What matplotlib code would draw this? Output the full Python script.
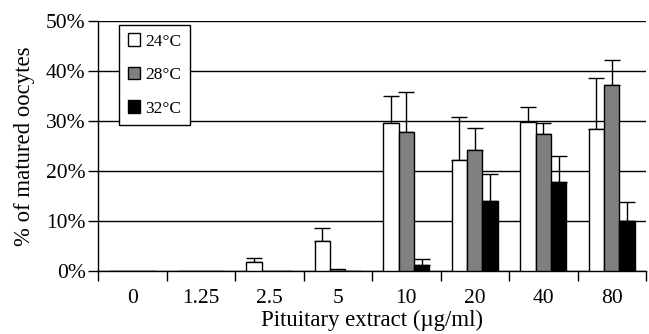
import matplotlib.pyplot as plt
import numpy as np

plt.rcParams['font.family'] = ['Liberation Serif', 'DejaVu Serif']

# data (percent)
doses = ['0', '1.25', '2.5', '5', '10', '20', '40', '80']
temps = ['24°C', '28°C', '32°C']
mean_24 = [0, 0, 1.9, 6.0, 29.7, 22.2, 29.9, 28.5]
err_24 = [0, 0, 0.8, 2.6, 5.3, 8.6, 3.0, 10.1]
mean_28 = [0, 0, 0, 0.4, 27.9, 24.3, 27.5, 37.3]
err_28 = [0, 0, 0, 0, 7.9, 4.4, 2.2, 4.9]
mean_32 = [0, 0, 0, 0, 1.3, 14.0, 17.9, 10.1]
err_32 = [0, 0, 0, 0, 1.1, 5.5, 5.2, 3.8]

colors = ['white', '#808080', 'black']

fig = plt.figure(figsize=(6.49, 3.34), dpi=100)
ax = fig.add_axes([98 / 649, 1 - 271 / 334, 548 / 649, 250 / 334])

x = np.arange(len(doses))
w = 0.223
means = [mean_24, mean_28, mean_32]
errs = [err_24, err_28, err_32]
for i in range(3):
    pos = x + (i - 1) * w
    ax.bar(pos, means[i], w, color=colors[i], edgecolor='black', linewidth=1,
           label=temps[i], zorder=3)
    e = np.array(errs[i])
    m = e > 0
    ax.errorbar(pos[m], np.array(means[i])[m], yerr=[np.zeros(m.sum()), e[m]],
                fmt='none', ecolor='black', elinewidth=1, capsize=6,
                capthick=1, zorder=2)

ax.set_xlim(-0.5, 7.5)
ax.set_ylim(0, 50)
ax.set_yticks(np.arange(0, 51, 10))
ax.set_yticklabels([f'{v}%' for v in range(0, 51, 10)], fontsize=15.5)
ax.yaxis.grid(True, color='black', linewidth=1)
ax.set_axisbelow(True)

ax.set_xticks(x)
ax.set_xticklabels(doses, fontsize=15.5)
ax.set_xticks(np.arange(-0.5, 8, 1), minor=True)
ax.tick_params(axis='x', which='major', length=0, pad=13)
ax.tick_params(axis='x', which='minor', length=7, width=1, direction='out')
ax.tick_params(axis='y', length=7, width=1, direction='out', pad=2)

for s in ['top', 'right']:
    ax.spines[s].set_visible(False)
ax.spines['left'].set_linewidth(1)
ax.spines['bottom'].set_linewidth(1)

ax.set_xlabel('Pituitary extract (µg/ml)', fontsize=16.4, labelpad=1)
ax.set_ylabel('% of matured oocytes', fontsize=16.4, labelpad=8)

leg = ax.legend(loc='upper left', bbox_to_anchor=(0.038, 0.985), fontsize=12.5,
                frameon=True, fancybox=False, edgecolor='black',
                handlelength=0.7, handleheight=0.7, handletextpad=0.3,
                labelspacing=1.0, borderpad=0.5, borderaxespad=0)
leg.get_frame().set_linewidth(1)
leg.get_frame().set_alpha(1)

fig.savefig('out.png', dpi=100)
